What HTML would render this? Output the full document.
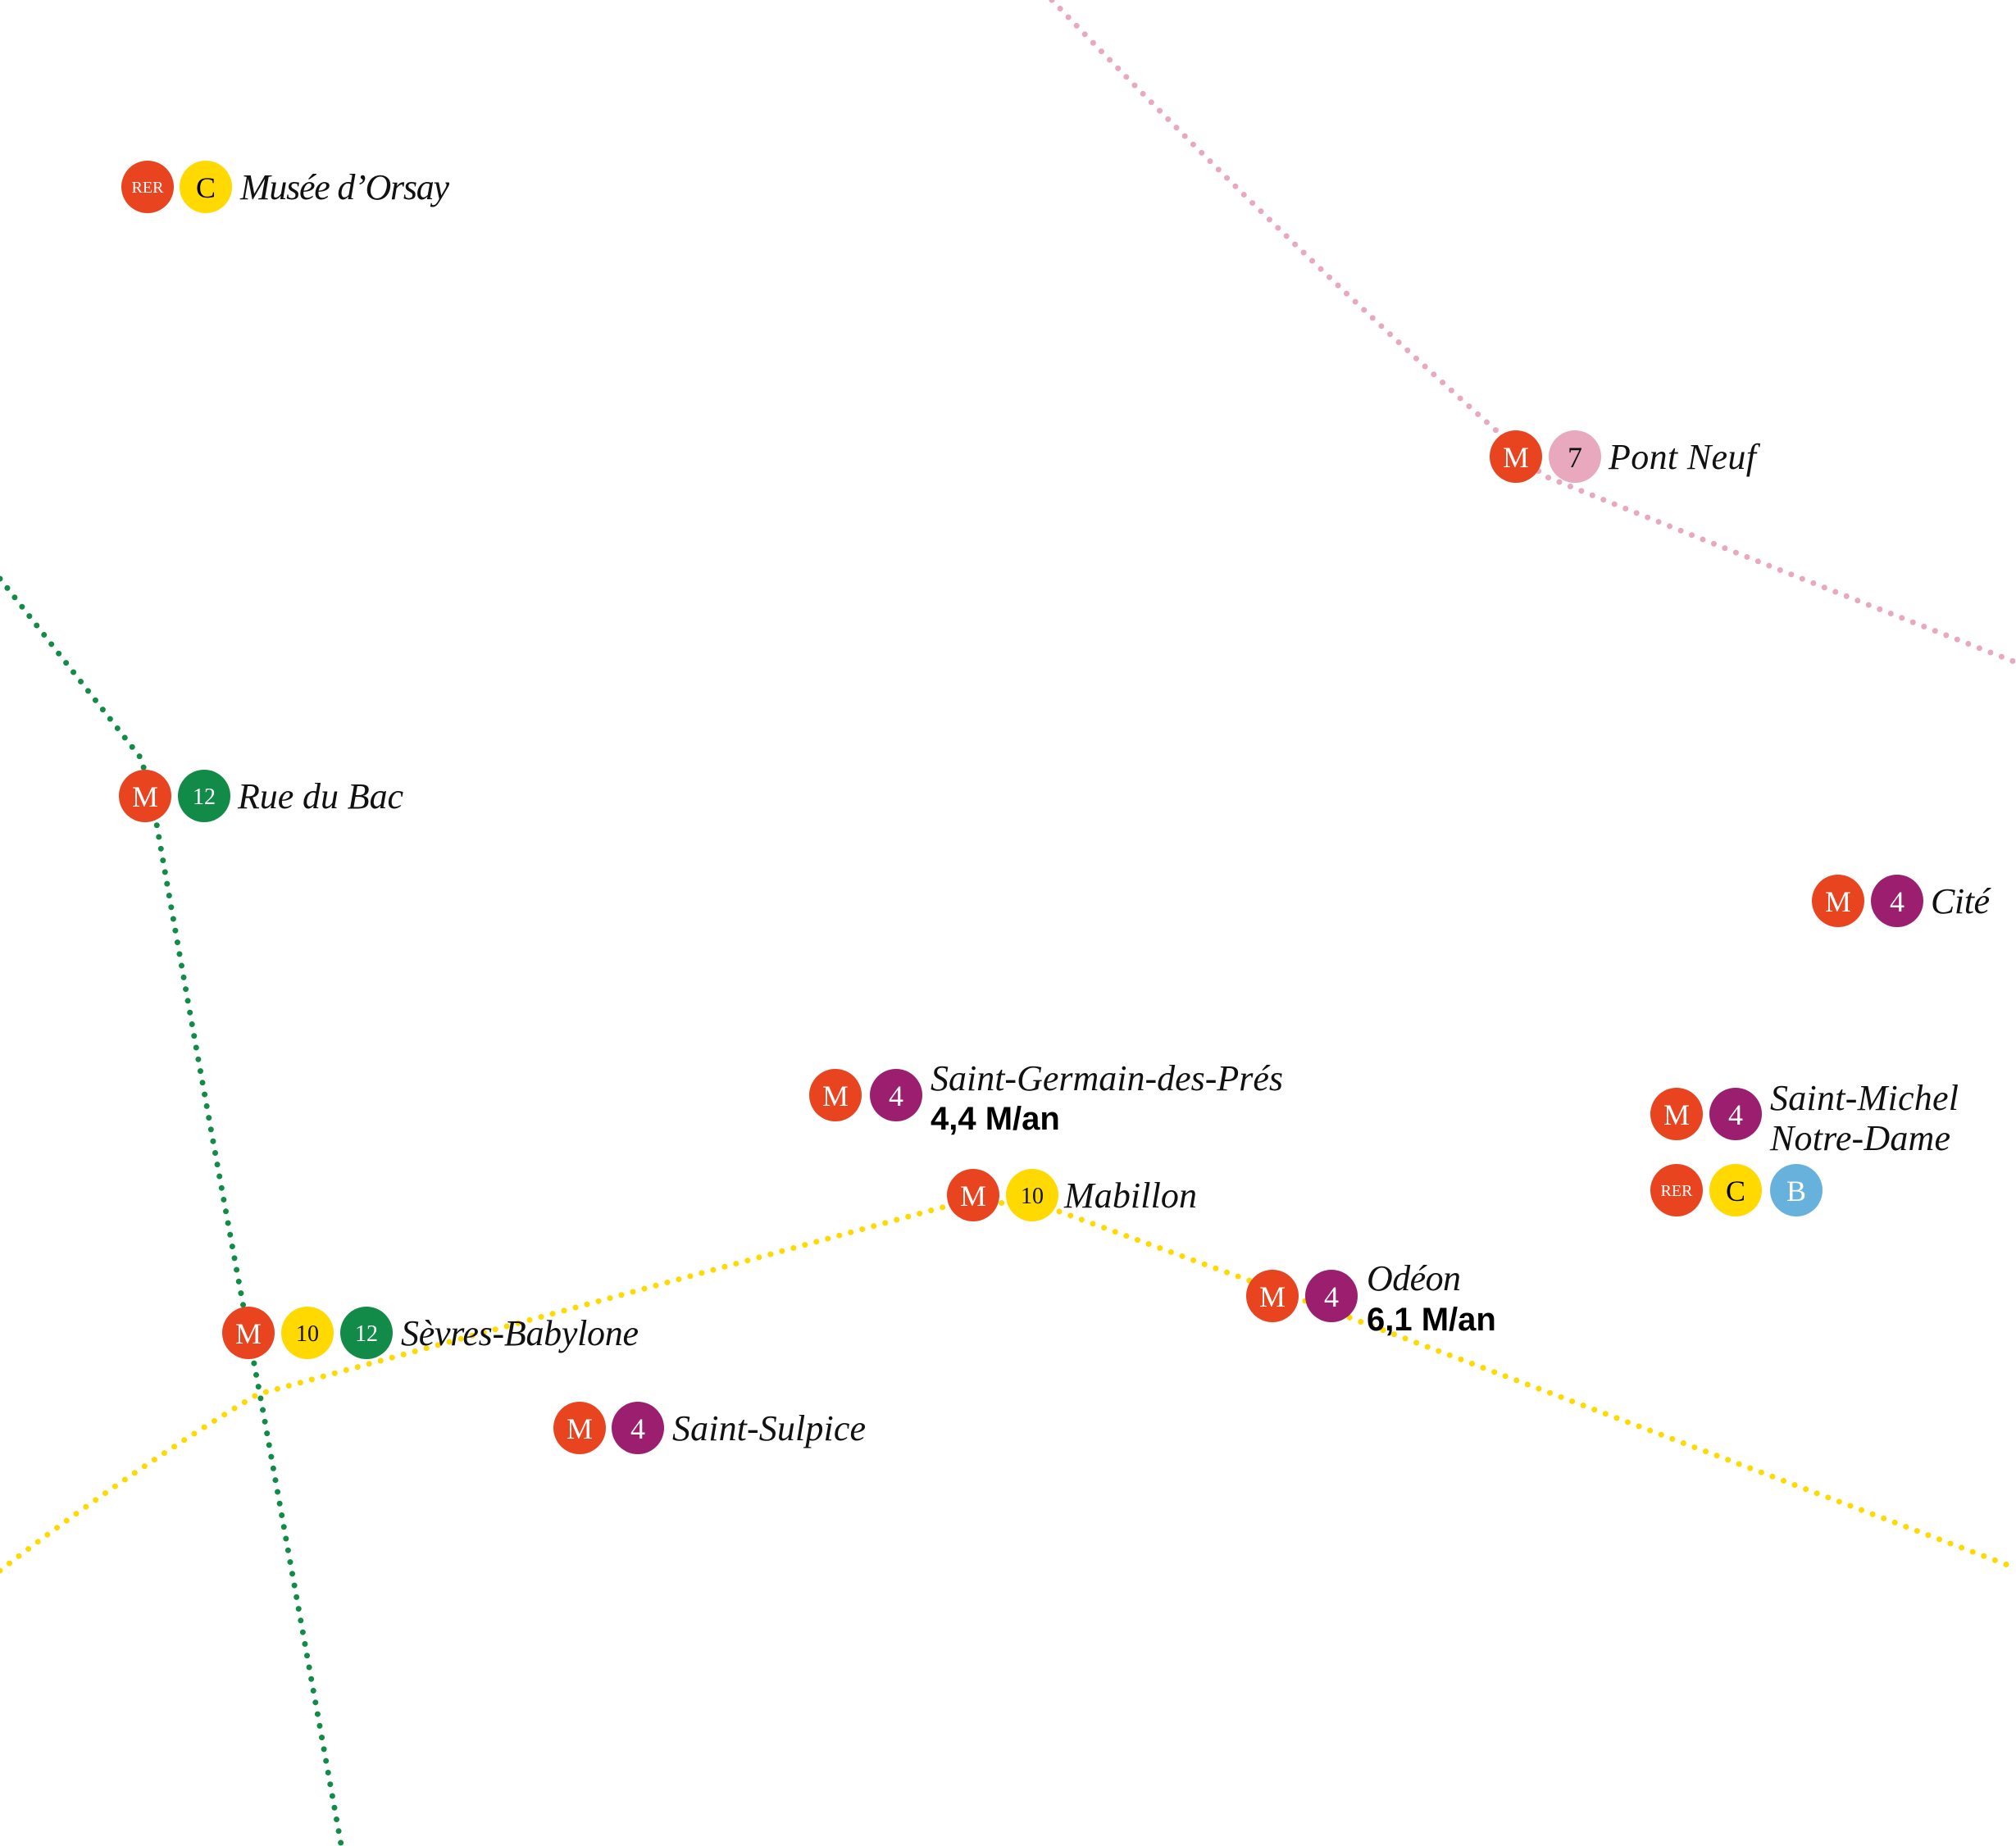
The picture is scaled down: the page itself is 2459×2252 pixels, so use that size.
<!DOCTYPE html>
<html><head><meta charset="utf-8"><style>
html,body{margin:0;padding:0;background:#fff;}
svg{display:block}
.l{font-family:"Liberation Serif",serif;font-style:italic;font-size:44px;fill:#111;}
.b{font-family:"Liberation Sans",sans-serif;font-weight:bold;font-size:40px;fill:#000;}
.c{font-family:"Liberation Serif",serif;text-anchor:middle;}
</style></head><body>
<svg width="2459" height="2252" viewBox="0 0 2459 2252" xmlns="http://www.w3.org/2000/svg">
<g fill="none" stroke-linecap="round" stroke-width="7" stroke-dasharray="0 14.5">
<path d="M1283,0 Q1580,310 1843,541 L1882,580 Q2180,700 2459,808" stroke="#E8A9BE"/>
<path d="M0,706 L172,925 L185,971 Q260,1400 320,1717 L416,2250" stroke="#128A48"/>
<path d="M0,1916 Q150,1800 314,1701 L1160,1470 L1259,1466 L1584,1584 L2459,1913" stroke="#FFD900"/>
</g>
<defs>
<g id="M"><circle r="32" fill="#E84420"/><text class="c" y="13" font-size="36" fill="#fff">M</text></g>
<g id="RER"><circle r="32" fill="#E84420"/><text class="c" y="7" font-size="20" fill="#fff">RER</text></g>
<g id="C"><circle r="32" fill="#FFD900"/><text class="c" y="13" font-size="36" fill="#000">C</text></g>
<g id="B"><circle r="32" fill="#66B2DD"/><text class="c" y="13" font-size="36" fill="#fff">B</text></g>
<g id="L4"><circle r="32" fill="#9B1F6E"/><text class="c" y="13" font-size="36" fill="#fff">4</text></g>
<g id="L7"><circle r="32" fill="#E8A9BE"/><text class="c" y="13" font-size="36" fill="#111">7</text></g>
<g id="L10"><circle r="32" fill="#FFD900"/><text class="c" y="10" font-size="28" fill="#111">10</text></g>
<g id="L12"><circle r="32" fill="#128A48"/><text class="c" y="10" font-size="28" fill="#fff">12</text></g>
</defs>
<use href="#RER" x="180" y="228"/><use href="#C" x="251" y="228"/>
<text class="l" x="293" y="243" textLength="255">Musée d’Orsay</text>

<use href="#M" x="1849" y="557"/><use href="#L7" x="1921" y="557"/>
<text class="l" x="1962" y="572" textLength="180">Pont Neuf</text>

<use href="#M" x="177" y="971"/><use href="#L12" x="249" y="971"/>
<text class="l" x="290" y="986" textLength="202">Rue du Bac</text>

<use href="#M" x="2242" y="1099"/><use href="#L4" x="2314" y="1099"/>
<text class="l" x="2355" y="1114" textLength="72">Cité</text>

<use href="#M" x="1019" y="1336"/><use href="#L4" x="1093" y="1336"/>
<text class="l" x="1135" y="1330" textLength="430">Saint-Germain-des-Prés</text>
<text class="b" x="1135" y="1378">4,4 M/an</text>

<use href="#M" x="2045" y="1359"/><use href="#L4" x="2117" y="1359"/>
<text class="l" x="2159" y="1354" textLength="230">Saint-Michel</text>
<text class="l" x="2159" y="1403" textLength="220">Notre-Dame</text>
<use href="#RER" x="2045" y="1452"/><use href="#C" x="2117" y="1452"/><use href="#B" x="2191" y="1452"/>

<use href="#M" x="1187" y="1458"/><use href="#L10" x="1259" y="1458"/>
<text class="l" x="1298" y="1473" textLength="162">Mabillon</text>

<use href="#M" x="1552" y="1581"/><use href="#L4" x="1624" y="1581"/>
<text class="l" x="1667" y="1574" textLength="115">Odéon</text>
<text class="b" x="1667" y="1623">6,1 M/an</text>

<use href="#M" x="303" y="1626"/><use href="#L10" x="375" y="1626"/><use href="#L12" x="447" y="1626"/>
<text class="l" x="489" y="1641" textLength="290">Sèvres-Babylone</text>

<use href="#M" x="707" y="1742"/><use href="#L4" x="778" y="1742"/>
<text class="l" x="820" y="1757" textLength="236">Saint-Sulpice</text>
</svg>
</body></html>
